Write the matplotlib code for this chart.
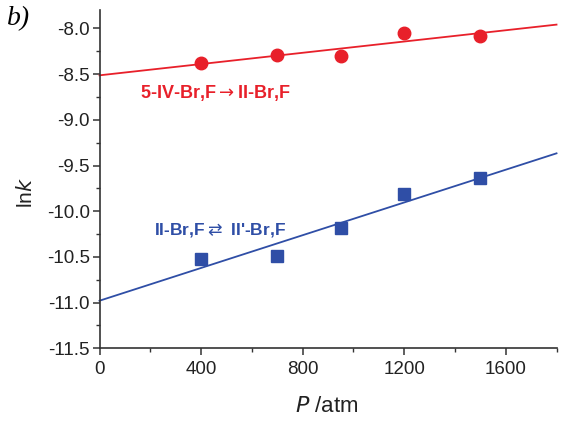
import numpy as np
import matplotlib
matplotlib.use("Agg")
import matplotlib.pyplot as plt
from matplotlib.ticker import MultipleLocator

# data
pressure = [400, 700, 950, 1200, 1500]
lnk_red = [-8.38, -8.29, -8.30, -8.05, -8.08]
lnk_blue = [-10.52, -10.49, -10.18, -9.81, -9.64]

red = "#e8202a"
blue = "#2f4ea6"

plt.rcParams["font.family"] = ["Liberation Sans", "DejaVu Sans"]

fig = plt.figure(figsize=(5.61, 4.24), dpi=100)
ax = fig.add_axes([0.1774, 0.1785, 0.8146, 0.7975])

# linear fits
x_fit = np.array([0, 1800])
for ys, col, mk, ms in [(lnk_red, red, "o", 9), (lnk_blue, blue, "s", 8)]:
    slope, icpt = np.polyfit(pressure, ys, 1)
    ax.plot(x_fit, icpt + slope * x_fit, color=col, lw=1.3, clip_on=False)
    ax.plot(pressure, ys, mk, color=col, ms=ms, mec=col, ls="none")

ax.set_xlim(0, 1800)
ax.set_ylim(-11.5, -7.8)
ax.xaxis.set_major_locator(MultipleLocator(400))
ax.xaxis.set_minor_locator(MultipleLocator(200))
ax.yaxis.set_major_locator(MultipleLocator(0.5))
ax.yaxis.set_minor_locator(MultipleLocator(0.25))
ax.yaxis.set_major_formatter(plt.FuncFormatter(lambda v, p: f"{v:.1f}"))

for s in ["top", "right"]:
    ax.spines[s].set_visible(False)
for s in ["left", "bottom"]:
    ax.spines[s].set_color("#333333")
    ax.spines[s].set_linewidth(1.2)

ax.tick_params(which="major", direction="out", length=5, width=1.1, color="#333333",
               labelsize=13.5, labelcolor="#222222")
ax.tick_params(axis="x", which="major", pad=4)
ax.tick_params(axis="y", which="major", pad=2)
ax.tick_params(which="minor", direction="out", length=3, width=1.0, color="#333333")

ax.set_xlabel(r"$\it{P}$ /atm", fontsize=16, color="#222222")
ax.xaxis.set_label_coords(0.498, -0.14)
ax.set_ylabel(r"ln$\it{k}$", fontsize=15, color="#222222")
ax.yaxis.set_label_coords(-0.14, 0.46)

ax.text(160, -8.71, r"5-IV-Br,F$\rightarrow$II-Br,F", color=red, fontsize=13,
        fontweight="bold", ha="left", va="center")
ax.text(215, -10.21, r"II-Br,F$\rightleftarrows$ II'-Br,F", color=blue, fontsize=12.5,
        fontweight="bold", ha="left", va="center")

fig.text(0.012, 0.955, "b)", fontsize=20, style="italic", family="Liberation Serif",
         ha="left", va="center")

fig.savefig("out.png", dpi=100)
